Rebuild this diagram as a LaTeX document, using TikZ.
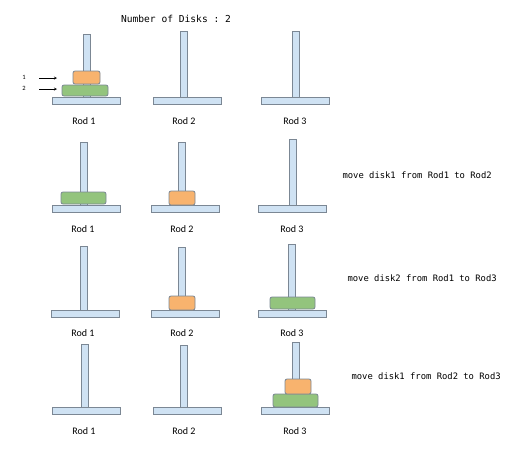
\documentclass[tikz,border=0pt]{standalone}
\usepackage{fontspec}
\setmainfont{Carlito}
\setmonofont{DejaVu Sans Mono}
\definecolor{rodblue}{HTML}{CFE2F3}
\definecolor{rodline}{HTML}{7B8794}
\definecolor{diskorange}{HTML}{F8B36E}
\definecolor{diskgreen}{HTML}{93C47D}
\tikzset{rodpart/.style={draw=rodline,fill=rodblue,line width=.8pt},
  disk/.style={draw=rodline,line width=.8pt,rounded corners=2pt},
  rodlabel/.style={font=\fontsize{10}{12}\selectfont},
  movetext/.style={font=\ttfamily\fontsize{8.85}{10}\selectfont,anchor=west}}
% base centre x, pole centre x, base top y, pole top y
\newcommand{\rod}[4]{%
  \draw[rodpart] (#2-3.5,#4) rectangle (#2+3.5,#3);
  \draw[rodpart] (#1-34,#3) rectangle (#1+34,#3+7);}
% colour, left x, top y, right x, bottom y
\newcommand{\disk}[5]{\draw[disk,fill=#1] (#2,#3) rectangle (#4,#5);}

\begin{document}
\begin{tikzpicture}[x=1pt,y=-1pt,>=stealth]
\useasboundingbox (0,0) rectangle (529,450);
\node[font=\ttfamily\fontsize{9.6}{11}\selectfont] (title) at (176,19) {Number of Disks : 2};
% start
\rod{86}{86.5}{97}{34} \rod{187}{183.5}{97}{31} \rod{295.5}{295.5}{97}{31}
\disk{diskorange}{73}{71}{100}{84}
\disk{diskgreen}{62}{85}{108}{96}
\node[font=\fontsize{6.5}{7}\selectfont] (n1) at (24,77) {1};
\node[font=\fontsize{6.5}{7}\selectfont] (n2) at (24,88) {2};
\coordinate (a1) at (57,78); \coordinate (a2) at (57,89);
\draw[->,line width=.4pt] (n1) ++(15,1) -- (a1);
\draw[->,line width=.4pt] (n2) ++(15,1) -- (a2);
\node[rodlabel] (r11) at (84,121) {Rod 1};
\node[rodlabel] (r12) at (184,121) {Rod 2};
\node[rodlabel] (r13) at (295,121) {Rod 3};
% step 1
\rod{86}{83.5}{205}{142} \rod{185}{182}{205}{142} \rod{292}{292.5}{205}{139}
\disk{diskgreen}{61}{192}{106}{204}
\disk{diskorange}{169}{191}{195}{205}
\node[rodlabel] (r21) at (83,229) {Rod 1};
\node[rodlabel] (r22) at (182,229) {Rod 2};
\node[rodlabel] (r23) at (292,229) {Rod 3};
\node[movetext] (mv1) at (339,175) {move disk1 from Rod1 to Rod2};
% step 2
\rod{85.5}{83.5}{310}{246} \rod{185}{182}{310}{247} \rod{292}{292}{310}{244}
\disk{diskorange}{169}{296}{195}{310}
\disk{diskgreen}{270}{297}{315}{309}
\node[rodlabel] (r31) at (83,333) {Rod 1};
\node[rodlabel] (r32) at (182,333) {Rod 2};
\node[rodlabel] (r33) at (292,333) {Rod 3};
\node[movetext] (mv2) at (344,278) {move disk2 from Rod1 to Rod3};
% step 3
\rod{86.5}{84.5}{407}{344} \rod{187}{184}{407}{345} \rod{295.5}{295.5}{407}{342}
\disk{diskgreen}{273}{394}{318}{407}
\disk{diskorange}{285}{379}{311}{394}
\node[rodlabel] (r41) at (84,431) {Rod 1};
\node[rodlabel] (r42) at (184,431) {Rod 2};
\node[rodlabel] (r43) at (295,431) {Rod 3};
\node[movetext] (mv3) at (348,376) {move disk1 from Rod2 to Rod3};
\end{tikzpicture}
\end{document}
